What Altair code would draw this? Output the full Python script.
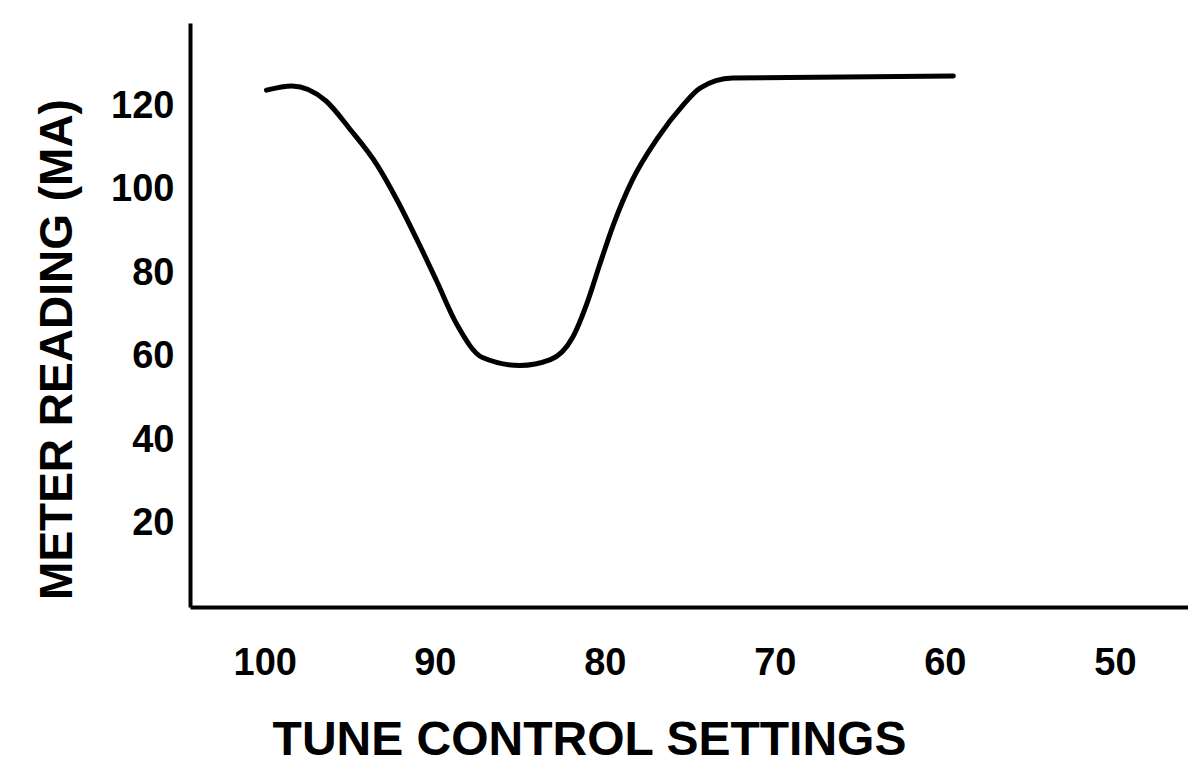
import altair as alt
import pandas as pd

# Curve (tune control setting vs meter reading in mA)
tune_setting = [99.9, 98.4, 96.4, 95.0, 93.4, 92.2, 90.9, 89.9, 88.7, 87.2, 85.0,
                83.2, 81.9, 81.0, 80.3, 79.5, 78.4, 76.9, 75.4, 74.4, 72.5, 59.5]
meter_reading = [123.9, 124.9, 121.3, 114.6, 106.0, 97.4, 86.8, 78.2, 67.7, 59.8, 57.9,
                 59.3, 64.6, 73.4, 82.1, 91.6, 102.2, 112.4, 120.3, 124.4, 126.8, 127.3]

x_ticks = [100, 90, 80, 70, 60, 50]
y_ticks = [20, 40, 60, 80, 100, 120]

df = pd.DataFrame({"setting": tune_setting, "reading": meter_reading})

FONT = "Liberation Sans"

chart = alt.Chart(df).mark_line(
    color="black", strokeWidth=5, interpolate="monotone", strokeCap="round"
).encode(
    x=alt.X(
        "setting:Q",
        scale=alt.Scale(domain=[45.7, 104.4], reverse=True, nice=False, zero=False),
        axis=alt.Axis(
            values=x_ticks,
            title="TUNE CONTROL SETTINGS",
            ticks=False,
            grid=False,
            domainColor="black",
            domainWidth=4,
            labelFont=FONT,
            labelFontSize=38,
            labelFontWeight="bold",
            labelColor="black",
            labelBaseline="middle",
            labelPadding=56,
            titleFont=FONT,
            titleFontSize=48,
            titleFontWeight="bold",
            titleColor="black",
            titleAnchor="start",
            titleAlign="center",
            titleBaseline="middle",
            titleX=399,
            titleY=133,
        ),
    ),
    y=alt.Y(
        "reading:Q",
        scale=alt.Scale(domain=[0, 140], nice=False),
        axis=alt.Axis(
            values=y_ticks,
            title="METER READING (MA)",
            ticks=False,
            grid=False,
            domainColor="black",
            domainWidth=4,
            labelFont=FONT,
            labelFontSize=38,
            labelFontWeight="bold",
            labelColor="black",
            labelPadding=16,
            labelBaseline="middle",
            titleFont=FONT,
            titleFontSize=46,
            titleFontWeight="bold",
            titleColor="black",
            titleAngle=270,
            titleAlign="center",
            titleBaseline="middle",
            titleAnchor="start",
            titleX=-133,
            titleY=326,
        ),
    ),
).properties(
    width=998,
    height=584,
    padding={"left": 182, "top": 15, "right": 0, "bottom": 156},
    autosize=alt.AutoSizeParams(type="none"),
    background="white",
).configure_view(strokeWidth=0, stroke="transparent")

chart.save("out.html", embed_options={"renderer": "svg", "actions": False})
